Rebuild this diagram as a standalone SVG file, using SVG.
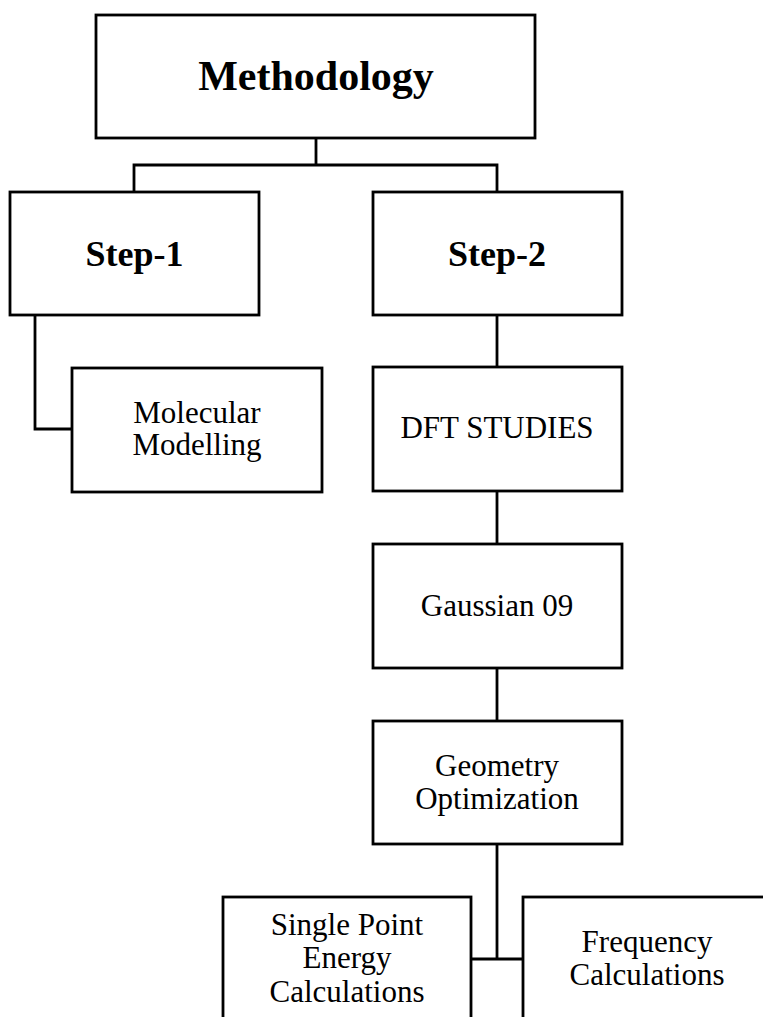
<svg xmlns="http://www.w3.org/2000/svg" width="763" height="1017" viewBox="0 0 763 1017">
<style>
.box{fill:#fff;stroke:#000;stroke-width:2.8}
.c{fill:none;stroke:#000;stroke-width:2.8;stroke-linecap:square}
text{font-family:"Liberation Serif","Times New Roman",serif;fill:#000;text-anchor:middle}
.t{font-size:31px}
.b{font-weight:bold;font-size:36px}
.h{font-weight:bold;font-size:42px}
</style>
<rect width="763" height="1017" fill="#fff"/>
<g id="connectors">
<path class="c" d="M316 138V165M134 192V165H497V192"/>
<path class="c" d="M35 315V429H72"/>
<path class="c" d="M497 315V367M497 491V544M497 668V721M497 844V959M471 959H523"/>
</g>
<g id="methodology"><rect class="box" x="96" y="15" width="439" height="123"/><text class="h" x="316" y="90">Methodology</text></g>
<g id="step1"><rect class="box" x="10" y="192" width="249" height="123"/><text class="b" x="134.5" y="266">Step-1</text></g>
<g id="step2"><rect class="box" x="373" y="192" width="249" height="123"/><text class="b" x="497" y="266">Step-2</text></g>
<g id="molecular"><rect class="box" x="72" y="368" width="250" height="124"/><text class="t" x="197" y="423">Molecular</text><text class="t" x="197" y="455">Modelling</text></g>
<g id="dft"><rect class="box" x="373" y="367" width="249" height="124"/><text class="t" x="497" y="438">DFT STUDIES</text></g>
<g id="gaussian"><rect class="box" x="373" y="544" width="249" height="124"/><text class="t" x="497" y="616">Gaussian 09</text></g>
<g id="geometry"><rect class="box" x="373" y="721" width="249" height="123"/><text class="t" x="497" y="776">Geometry</text><text class="t" x="497" y="809">Optimization</text></g>
<g id="singlepoint"><rect class="box" x="223" y="897" width="248" height="140"/><text class="t" x="347" y="935">Single Point</text><text class="t" x="347" y="968">Energy</text><text class="t" x="347" y="1002">Calculations</text></g>
<g id="frequency"><rect class="box" x="523" y="897" width="250" height="140"/><text class="t" x="647" y="952">Frequency</text><text class="t" x="647" y="985">Calculations</text></g>
</svg>
